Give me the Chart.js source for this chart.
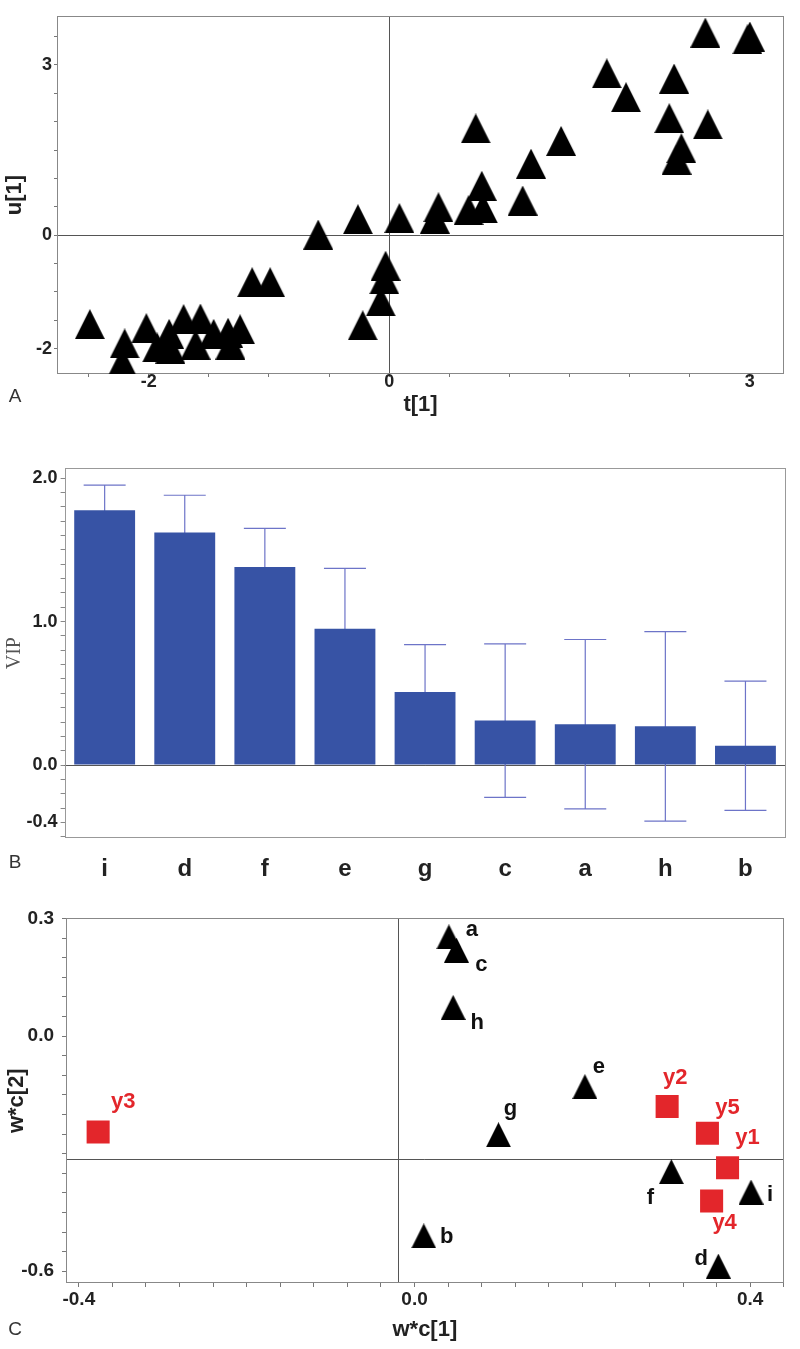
<!DOCTYPE html>
<html>
<head>
<meta charset="utf-8">
<script src="https://cdn.jsdelivr.net/npm/chart.js@4.4.0/dist/chart.umd.min.js"></script>
<style>
body { margin:0; background:#fff; width:800px; height:1349px; position:relative; overflow:hidden; }
canvas { position:absolute; left:0; }
</style>
</head>
<body>
<canvas id="chartA" width="800" height="420" style="top:0px"></canvas>
<canvas id="chartB" width="800" height="480" style="top:420px"></canvas>
<canvas id="chartC" width="800" height="449" style="top:900px"></canvas>
<script>
const FONT = 'Arial, "Liberation Sans", sans-serif';

// A - score plot t[1] / u[1]
const scoresT = [-2.49,-2.20,-2.22,-2.02,-1.93,-1.82,-1.83,-1.71,-1.61,-1.57,-1.46,-1.34,-1.32,-1.24,-1.14,-0.99,
                 -0.59,-0.26,0.085,0.41,0.38,0.77,0.66,0.78,1.11,1.18,0.72,-0.03,-0.04,-0.07,-0.22,
                 1.43,1.81,1.97,2.37,2.33,2.65,2.43,2.39,2.63,3.00,2.98];
const scoresU = [-1.57,-1.91,-2.24,-1.64,-1.98,-2.00,-1.74,-1.48,-1.93,-1.47,-1.74,-1.72,-1.93,-1.66,-0.83,-0.83,
                 0.01,0.28,0.30,0.49,0.29,0.87,0.44,0.47,0.61,1.26,1.88,-0.54,-0.78,-1.17,-1.59,
                 1.66,2.85,2.43,2.76,2.06,1.95,1.53,1.33,3.57,3.50,3.45];
const aXTicks = [-2, 0, 3];
const aYTicks = [-2, 0, 3];

// B - VIP
const vipNames = ['i','d','f','e','g','c','a','h','b'];
const vipValues = [1.775, 1.62, 1.38, 0.95, 0.51, 0.31, 0.285, 0.27, 0.135];
const vipErrors = [0.175, 0.26, 0.27, 0.42, 0.33, 0.535, 0.59, 0.66, 0.45];
const bYTicks = [-0.4, 0.0, 1.0, 2.0];

// C - loadings w*c[1] / w*c[2]
const xVarNames = ['a','b','c','d','e','f','g','h','i'];
const xVarW1 = [0.041, 0.011, 0.050, 0.362, 0.203, 0.306, 0.100, 0.046, 0.401];
const xVarW2 = [0.253, -0.510, 0.219, -0.587, -0.129, -0.346, -0.252, 0.073, -0.398];
const yVarNames = ['y1','y2','y3','y4','y5'];
const yVarW1 = [0.373, 0.301, -0.377, 0.354, 0.349];
const yVarW2 = [-0.336, -0.180, -0.245, -0.421, -0.248];
const cXTicks = [-0.4, 0.0, 0.4];
const cYTicks = [-0.6, 0.0, 0.3];
const cCross = [-0.020, -0.314];

// where each point name sits next to its marker
const labelOffsets = {
  a:[23,-7], c:[25,15], h:[24,16], e:[14,-20], g:[12,-26], f:[-21,26], i:[19,3], b:[23,1], d:[-17,-7],
  y1:[20,-30], y2:[8,-29], y3:[25,-30], y4:[13,22], y5:[20,-25]
};

function steps(from, to, step) {
  const out = [];
  for (let v = from; v <= to + 1e-9; v += step) out.push(Math.round(v * 1000) / 1000);
  return out;
}
function pick(list, digits) {
  return v => {
    const hit = list.find(l => Math.abs(l - v) < 1e-6);
    return hit === undefined ? '' : hit.toFixed(digits);
  };
}
function triangle(w, h, color) {
  const c = document.createElement('canvas');
  c.width = w; c.height = h;
  const g = c.getContext('2d');
  g.fillStyle = color;
  g.beginPath(); g.moveTo(w / 2, 0); g.lineTo(w, h); g.lineTo(0, h); g.closePath(); g.fill();
  return c;
}

const frame = {
  id: 'frame',
  beforeDatasetsDraw(chart, args, opts) {
    const {ctx, chartArea: a, scales} = chart;
    ctx.save();
    ctx.lineWidth = 1;
    ctx.strokeStyle = '#555';
    if (opts.x !== undefined) {
      const px = Math.round(scales.x.getPixelForValue(opts.x)) + 0.5;
      ctx.beginPath(); ctx.moveTo(px, a.top); ctx.lineTo(px, a.bottom); ctx.stroke();
    }
    if (opts.y !== undefined) {
      const py = Math.round(scales.y.getPixelForValue(opts.y)) + 0.5;
      ctx.beginPath(); ctx.moveTo(a.left, py); ctx.lineTo(a.right, py); ctx.stroke();
    }
    ctx.strokeStyle = opts.color || '#888';
    ctx.strokeRect(Math.round(a.left) + 0.5, Math.round(a.top) + 0.5, Math.round(a.width) - 1, Math.round(a.height) - 1);
    ctx.restore();
  },
  afterDraw(chart, args, opts) {
    const ctx = chart.ctx;
    ctx.save();
    ctx.font = '19px ' + FONT;
    ctx.fillStyle = '#333';
    ctx.textAlign = 'center';
    ctx.textBaseline = 'middle';
    ctx.fillText(opts.letter, opts.letterX, opts.letterY);
    ctx.restore();
  }
};

const errorBars = {
  id: 'errorBars',
  beforeDatasetsDraw(chart) {
    const {ctx, scales} = chart;
    const ds = chart.data.datasets[0];
    const meta = chart.getDatasetMeta(0);
    ctx.save();
    ctx.strokeStyle = '#6d74c8';
    ctx.lineWidth = 1.2;
    meta.data.forEach((bar, i) => {
      const top = scales.y.getPixelForValue(ds.data[i] + ds.errors[i]);
      const bot = scales.y.getPixelForValue(ds.data[i] - ds.errors[i]);
      ctx.beginPath();
      ctx.moveTo(bar.x, top); ctx.lineTo(bar.x, bot);
      ctx.moveTo(bar.x - 21, top); ctx.lineTo(bar.x + 21, top);
      ctx.moveTo(bar.x - 21, bot); ctx.lineTo(bar.x + 21, bot);
      ctx.stroke();
    });
    ctx.restore();
  }
};

const pointLabels = {
  id: 'pointLabels',
  afterDatasetsDraw(chart) {
    const ctx = chart.ctx;
    chart.data.datasets.forEach((ds, di) => {
      const meta = chart.getDatasetMeta(di);
      ctx.save();
      ctx.font = 'bold 22px ' + FONT;
      ctx.fillStyle = ds.labelColor;
      ctx.textAlign = 'center';
      ctx.textBaseline = 'middle';
      meta.data.forEach((pt, i) => {
        const off = labelOffsets[ds.names[i]] || [20, 0];
        ctx.fillText(ds.names[i], pt.x + off[0], pt.y + off[1]);
      });
      ctx.restore();
    });
  }
};

Chart.defaults.font.family = FONT;
Chart.defaults.color = '#222';

const tickFont = size => ({family: FONT, size: size, weight: 'bold', lineHeight: 1});
const titleFont = {family: FONT, size: 22, weight: 'bold'};

// ---- A ----
new Chart(document.getElementById('chartA'), {
  type: 'scatter',
  data: {
    datasets: [{
      data: scoresT.map((t, i) => ({x: t, y: scoresU[i]})),
      pointStyle: triangle(30, 30, '#000'),
      pointRadius: 15
    }]
  },
  options: {
    responsive: false, animation: false, devicePixelRatio: 1,
    layout: {padding: {top: 8, right: 8, left: 0, bottom: 0}},
    plugins: {legend: {display: false}, tooltip: {enabled: false},
      frame: {letter: 'A', letterX: 15, letterY: 397, x: 0, y: 0}},
    scales: {
      x: {
        type: 'linear', min: -2.763, max: 3.284,
        afterBuildTicks: s => { s.ticks = steps(-2.5, 3, 0.5).map(v => ({value: v})); },
        afterFit: s => { s.height = 46; },
        grid: {drawOnChartArea: false, tickLength: 3, tickColor: '#777'},
        border: {display: false},
        ticks: {callback: pick(aXTicks, 0), font: tickFont(18), padding: -4, maxRotation: 0, autoSkip: false},
        title: {display: true, text: 't[1]', font: titleFont, padding: {top: 0, bottom: 2}}
      },
      y: {
        type: 'linear', min: -2.448, max: 3.862,
        afterBuildTicks: s => { s.ticks = steps(-2, 3.5, 0.5).map(v => ({value: v})); },
        afterFit: s => { s.width = 57; },
        grid: {drawOnChartArea: false, tickLength: 3, tickColor: '#777'},
        border: {display: false},
        ticks: {callback: pick(aYTicks, 0), font: tickFont(18), padding: 2, autoSkip: false},
        title: {display: true, text: 'u[1]', font: titleFont, padding: {top: 2, bottom: 0}}
      }
    }
  },
  plugins: [frame]
});

// ---- B ----
new Chart(document.getElementById('chartB'), {
  type: 'bar',
  data: {
    labels: vipNames,
    datasets: [{
      data: vipValues,
      errors: vipErrors,
      backgroundColor: '#3753a5',
      barPercentage: 0.76,
      categoryPercentage: 1
    }]
  },
  options: {
    responsive: false, animation: false, devicePixelRatio: 1,
    layout: {padding: {top: 48, right: 14.5, left: 0, bottom: 0}},
    plugins: {legend: {display: false}, tooltip: {enabled: false},
      frame: {letter: 'B', letterX: 15, letterY: 443, y: 0, color: '#999'}},
    scales: {
      x: {
        afterFit: s => { s.height = 61.7; },
        grid: {display: false},
        border: {display: false},
        ticks: {font: tickFont(24), padding: 11}
      },
      y: {
        min: -0.51, max: 2.07,
        afterBuildTicks: s => { s.ticks = steps(-0.5, 2.0, 0.1).map(v => ({value: v})); },
        afterFit: s => { s.width = 64.6; },
        grid: {drawOnChartArea: false, tickLength: 4, tickColor: '#888'},
        border: {display: false},
        ticks: {callback: pick(bYTicks, 1), font: tickFont(18), padding: 3, autoSkip: false},
        title: {display: true, text: 'VIP', color: '#555',
          font: {family: '"Times New Roman", "Liberation Serif", serif', size: 20}, padding: {top: 3, bottom: 0}}
      }
    }
  },
  plugins: [frame, errorBars]
});

// ---- C ----
new Chart(document.getElementById('chartC'), {
  type: 'scatter',
  data: {
    datasets: [{
      data: xVarW1.map((v, i) => ({x: v, y: xVarW2[i]})),
      names: xVarNames, labelColor: '#111',
      pointStyle: triangle(25, 25, '#000'),
      pointRadius: 12
    }, {
      data: yVarW1.map((v, i) => ({x: v, y: yVarW2[i]})),
      names: yVarNames, labelColor: '#e3262b',
      pointStyle: 'rect', pointRadius: 16.3,
      backgroundColor: '#e3262b', borderColor: '#e3262b', borderWidth: 0
    }]
  },
  options: {
    responsive: false, animation: false, devicePixelRatio: 1,
    layout: {padding: {top: 18.4, right: 5, left: 0, bottom: 0}},
    plugins: {legend: {display: false}, tooltip: {enabled: false},
      frame: {letter: 'C', letterX: 15, letterY: 430, x: cCross[0], y: cCross[1]}},
    scales: {
      x: {
        type: 'linear', min: -0.4153, max: 0.4399,
        afterBuildTicks: s => { s.ticks = steps(-0.4, 0.44, 0.04).map(v => ({value: v})); },
        afterFit: s => { s.height = 66; },
        grid: {drawOnChartArea: false, tickLength: 4, tickColor: '#777'},
        border: {display: false},
        ticks: {callback: pick(cXTicks, 1), font: tickFont(19), padding: 3.5, maxRotation: 0, autoSkip: false},
        title: {display: true, text: 'w*c[1]', font: titleFont, padding: {top: 0, bottom: 6}}
      },
      y: {
        type: 'linear', min: -0.6301, max: 0.30,
        afterBuildTicks: s => { s.ticks = steps(-0.6, 0.3, 0.05).map(v => ({value: v})); },
        afterFit: s => { s.width = 66; },
        grid: {drawOnChartArea: false, tickLength: 4, tickColor: '#777'},
        border: {display: false},
        ticks: {callback: pick(cYTicks, 1), font: tickFont(19), padding: 8, autoSkip: false},
        title: {display: true, text: 'w*c[2]', font: titleFont, padding: {top: 4, bottom: 0}}
      }
    }
  },
  plugins: [frame, pointLabels]
});
</script>
</body>
</html>
